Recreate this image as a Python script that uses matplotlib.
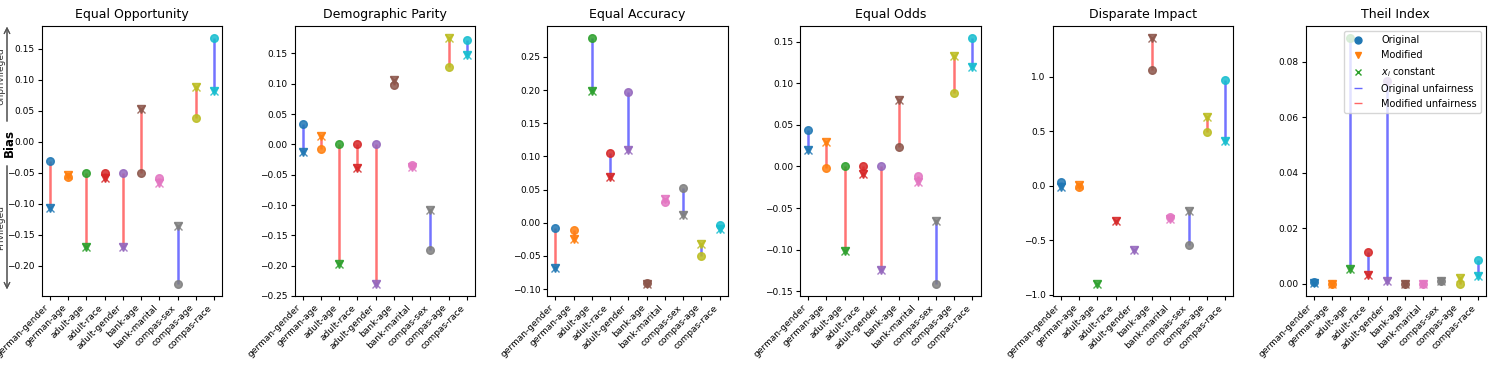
import numpy as np
import matplotlib
matplotlib.use("Agg")
import matplotlib.pyplot as plt
from matplotlib.lines import Line2D

categories = ["german-gender", "german-age", "adult-age", "adult-race", "adult-gender",
              "bank-age", "bank-marital", "compas-sex", "compas-age", "compas-race"]

titles = ["Equal Opportunity", "Demographic Parity", "Equal Accuracy",
          "Equal Odds", "Disparate Impact", "Theil Index"]

# original / modified bias per dataset-attribute pair
eo_orig = [-0.031, -0.056, -0.050, -0.051, -0.050, -0.051, -0.058, -0.229, 0.038, 0.167]
eo_mod = [-0.106, -0.054, -0.169, -0.058, -0.169, 0.053, -0.067, -0.136, 0.089, 0.082]

dp_orig = [0.033, -0.007, 0.000, 0.000, 0.000, 0.098, -0.034, -0.174, 0.128, 0.173]
dp_mod = [-0.012, 0.014, -0.197, -0.039, -0.230, 0.107, -0.037, -0.109, 0.175, 0.148]

ea_orig = [-0.008, -0.011, 0.278, 0.105, 0.197, -0.091, 0.031, 0.052, -0.050, -0.003]
ea_mod = [-0.068, -0.025, 0.198, 0.069, 0.110, -0.092, 0.036, 0.012, -0.032, -0.009]

eod_orig = [0.044, -0.002, 0.000, 0.000, 0.000, 0.023, -0.012, -0.141, 0.088, 0.154]
eod_mod = [0.020, 0.029, -0.102, -0.009, -0.124, 0.080, -0.019, -0.066, 0.133, 0.119]

di_orig = [0.030, -0.010, np.nan, np.nan, np.nan, 1.060, -0.290, -0.539, 0.493, 0.968]
di_mod = [-0.010, 0.010, -0.898, -0.325, -0.585, 1.350, -0.300, -0.227, 0.634, 0.410]

ti_orig = [0.0005, 0.0000, 0.0884, 0.0114, 0.0730, 0.0000, 0.0000, 0.0010, 0.0000, 0.0085]
ti_mod = [0.0003, 0.0000, 0.0054, 0.0033, 0.0012, 0.0000, 0.0000, 0.0010, 0.0022, 0.0030]

metrics = [(eo_orig, eo_mod), (dp_orig, dp_mod), (ea_orig, ea_mod),
           (eod_orig, eod_mod), (di_orig, di_mod), (ti_orig, ti_mod)]

fig, axes = plt.subplots(1, 6, figsize=(14.92, 3.72), dpi=100)
fig.subplots_adjust(left=0.028, right=0.996, top=0.93, bottom=0.204, wspace=0.40)

x = np.arange(len(categories))
for ax, title, (orig, mod) in zip(axes, titles, metrics):
    for i in range(len(categories)):
        color = "C%d" % i
        o, m = orig[i], mod[i]
        if np.isfinite(o) and np.isfinite(m):
            lc = "b" if abs(m) <= abs(o) else "r"
            ax.vlines(x[i], o, m, color=lc, alpha=0.55, linewidth=1.8, zorder=1)
        ax.plot(x[i], o, "o", color=color, markersize=5.5, alpha=0.85, zorder=2)
        ax.plot(x[i], m, "v", color=color, markersize=5.5, alpha=0.85, zorder=2)
        ax.plot(x[i], m, "x", color=color, markersize=5.5, alpha=0.85, zorder=3)
    ax.set_title(title, fontsize=9)
    ax.set_xticks(x)
    ax.set_xticklabels(categories, rotation=45, ha="right")
    ax.tick_params(labelsize=6.5, length=3, pad=2)

handles = [Line2D([], [], color="C0", marker="o", linestyle="None", markersize=5),
           Line2D([], [], color="C1", marker="v", linestyle="None", markersize=5),
           Line2D([], [], color="C2", marker="x", linestyle="None", markersize=5),
           Line2D([], [], color="b", marker="_", linestyle="None", markersize=6, alpha=0.6),
           Line2D([], [], color="r", marker="_", linestyle="None", markersize=6, alpha=0.6)]
labels = ["Original", "Modified", "$x_i$ constant", "Original unfairness", "Modified unfairness"]
axes[-1].legend(handles, labels, loc="upper right", fontsize=7, handletextpad=1.4,
                borderpad=0.45, labelspacing=0.5)

# Bias annotation on the far left
W, H = 1492.0, 372.0
fig.text(9 / W, 1 - 143 / H, "Bias", rotation=90, ha="center", va="center",
         fontsize=8.5, fontweight="bold")
fig.text(1 / W, 1 - 76 / H, "Unprivileged", rotation=90, ha="center", va="center",
         fontsize=6.5, color="#333333")
fig.text(1 / W, 1 - 227 / H, "Privileged", rotation=90, ha="center", va="center",
         fontsize=6.5, color="#333333")
fig.add_artist(plt.annotate("", xy=(7 / W, 1 - 24 / H), xytext=(7 / W, 1 - 124 / H),
                            xycoords="figure fraction", textcoords="figure fraction",
                            arrowprops=dict(arrowstyle="->", color="#555555", lw=0.8)))
fig.add_artist(plt.annotate("", xy=(7 / W, 1 - 292 / H), xytext=(7 / W, 1 - 163 / H),
                            xycoords="figure fraction", textcoords="figure fraction",
                            arrowprops=dict(arrowstyle="->", color="#555555", lw=0.8)))

fig.savefig("out.png", dpi=100)
